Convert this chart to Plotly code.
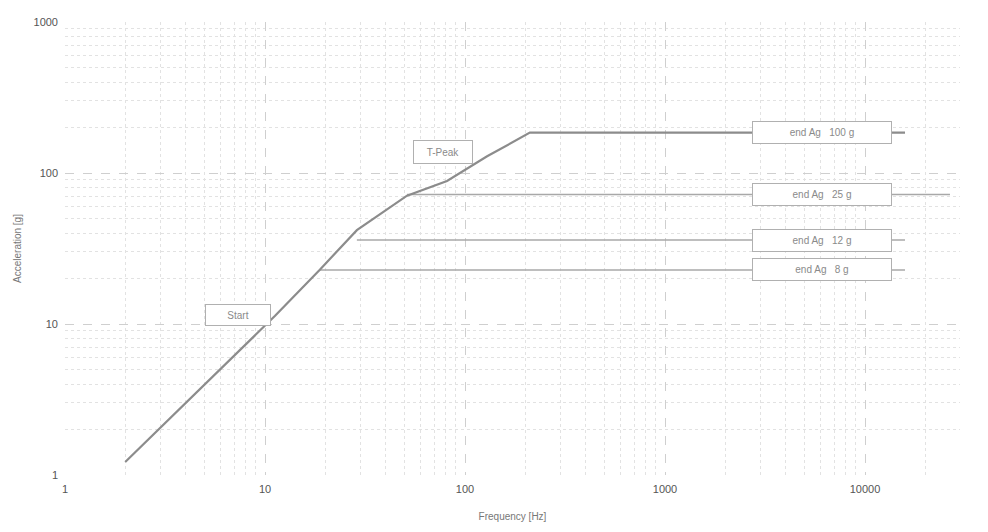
import math
import plotly.graph_objects as go

# Main sweep profile (frequency in Hz, acceleration in g)
curve_freq = [2.0, 3.89, 8.13, 11.2, 18.8, 28.8, 51.3, 81.3, 129, 211, 15850]
curve_acc = [1.22, 2.87, 7.40, 11.3, 22.9, 41.8, 70.8, 88.6, 129, 185, 185]

# Constant acceleration levels branching off the curve
level_start_freq = [51.3, 28.8, 18.8]
level_end_freq = [26600, 15850, 15850]
level_acc = [72, 36, 22.8]

# End labels (one per level, top to bottom)
end_labels = ["end Ag   100 g", "end Ag   25 g", "end Ag   12 g", "end Ag   8 g"]
end_label_acc = [185, 72, 36, 22.8]
end_label_freq = 6100

start_label = "Start"
start_freq, start_acc = 7.33, 11.5
peak_label = "T-Peak"
peak_freq, peak_acc = 77.6, 137

x_tickvals = [1, 10, 100, 1000, 10000]
x_ticktext = ["1", "10", "100", "1000", "10000"]
y_tickvals = [1, 10, 100, 1000]
y_ticktext = ["1", "10", "100", "1000"]
minor_x = [m * 10 ** d for d in range(0, 5) for m in range(2, 10)]
minor_y = [m * 10 ** d for d in range(0, 3) for m in range(2, 10)]

fig = go.Figure()

for f0, f1, a in zip(level_start_freq, level_end_freq, level_acc):
    fig.add_trace(go.Scatter(x=[f0, f1], y=[a, a], mode="lines",
                             line=dict(color="#a8a8a8", width=1.5),
                             showlegend=False, hoverinfo="skip"))

fig.add_trace(go.Scatter(x=curve_freq, y=curve_acc, mode="lines",
                         line=dict(color="#8c8c8c", width=2.2),
                         showlegend=False))

box_font = dict(family="Liberation Sans, Arial, sans-serif", size=10, color="#8a8a8a")
for txt, a in zip(end_labels, end_label_acc):
    fig.add_annotation(x=math.log10(end_label_freq), y=math.log10(a), text=txt,
                       showarrow=False, bgcolor="white", bordercolor="#b0b0b0",
                       borderwidth=1, borderpad=3, width=132, height=15, font=box_font)

fig.add_annotation(x=math.log10(start_freq), y=math.log10(start_acc), text=start_label,
                   showarrow=False, bgcolor="white", bordercolor="#b0b0b0",
                   borderwidth=1, borderpad=3, width=58, height=14, font=box_font)
fig.add_annotation(x=math.log10(peak_freq), y=math.log10(peak_acc), text=peak_label,
                   showarrow=False, bgcolor="white", bordercolor="#b0b0b0",
                   borderwidth=1, borderpad=3, width=52, height=16, font=box_font)

axis_font = dict(family="Liberation Sans, Arial, sans-serif", size=11, color="#555")
title_font = dict(family="Liberation Sans, Arial, sans-serif", size=10, color="#777")
fig.update_xaxes(type="log", range=[0, 4.475], tickvals=x_tickvals, ticktext=x_ticktext,
                 showline=False, zeroline=False, ticks="", ticklabelstandoff=6,
                 gridcolor="#cfcfcf", griddash="dash", gridwidth=1,
                 minor=dict(showgrid=True, tickvals=minor_x, gridcolor="#e2e2e2",
                            griddash="dot", ticks=""),
                 tickfont=axis_font,
                 title=dict(text="Frequency [Hz]", font=title_font, standoff=18))
fig.update_yaxes(type="log", range=[0, 3], tickvals=y_tickvals, ticktext=y_ticktext,
                 showline=False, zeroline=False, ticks="", ticklabelstandoff=6,
                 gridcolor="#cfcfcf", griddash="dash", gridwidth=1,
                 minor=dict(showgrid=True, tickvals=minor_y, gridcolor="#e2e2e2",
                            griddash="dot", ticks=""),
                 tickfont=axis_font,
                 title=dict(text="Acceleration [g]", font=title_font, standoff=10))

fig.update_layout(width=980, height=524, plot_bgcolor="white", paper_bgcolor="white",
                  margin=dict(l=57, r=28, t=8, b=57), showlegend=False)

fig.write_html("out.html")
